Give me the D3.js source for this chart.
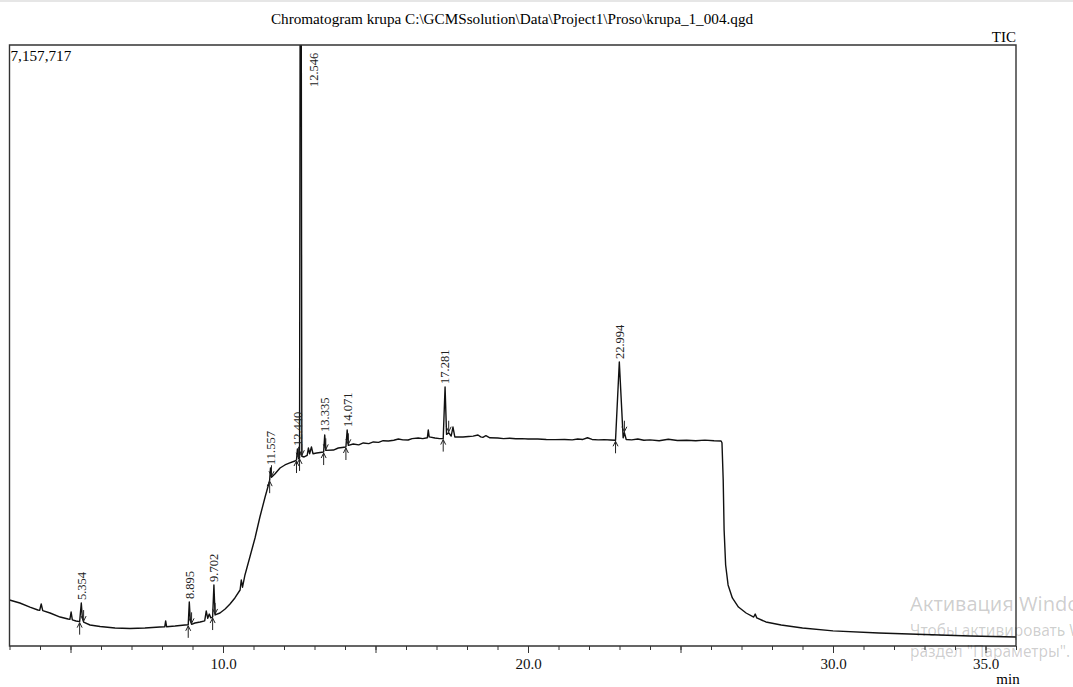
<!DOCTYPE html>
<html>
<head>
<meta charset="utf-8">
<script src="https://cdn.jsdelivr.net/npm/d3@7"></script>
<style>
  body { margin: 0; background: #fff; }
  svg { display: block; }
</style>
</head>
<body>
<div class="chart"></div>
<script>
var chartOptions = {
  width: 1073,
  height: 687,
  left: 9.5,
  right: 1016,
  top: 45,
  bottom: 646
};

// retention time (min)
var rtTimes = [
  3.00, 3.34, 3.67, 3.93, 3.99, 4.04, 4.09, 4.33, 4.66, 4.92, 4.98, 5.02, 5.06, 5.18,
  5.30, 5.354, 5.39, 5.43, 5.64, 5.97, 6.46, 6.95, 7.44, 7.93, 8.09, 8.12, 8.15, 8.43, 8.75,
  8.86, 8.895, 8.93, 8.97, 9.08, 9.25, 9.40, 9.45, 9.50, 9.55, 9.60,
  9.66, 9.702, 9.74, 9.90, 10.07, 10.23, 10.39, 10.56, 10.60, 10.64, 10.72, 10.89, 11.05,
  11.21, 11.38, 11.48, 11.53, 11.557, 11.59, 11.70, 11.87, 12.03, 12.19, 12.36,
  12.41, 12.44, 12.48, 12.51, 12.53, 12.546, 12.565, 12.585, 12.66,
  12.76, 12.80, 12.84, 12.90, 12.95, 13.07, 13.30, 13.335, 13.37, 13.62, 13.78,
  14.03, 14.071, 14.11, 14.27, 14.45, 14.60, 14.78, 14.93, 15.10, 15.25, 15.42, 15.60,
  15.75, 15.90, 16.07, 16.20, 16.40, 16.55, 16.70, 16.73, 16.76, 16.95, 17.10,
  17.22, 17.281, 17.33, 17.40, 17.48, 17.54, 17.60, 17.87, 18.05, 18.20, 18.36, 18.45,
  18.52, 18.62, 18.75, 19.01, 19.20, 19.40, 19.60, 19.80, 20.00, 20.32, 20.60, 20.90,
  21.20, 21.45, 21.63, 21.80, 21.95, 22.10, 22.30, 22.50, 22.70, 22.87,
  22.994, 23.12, 23.16, 23.22, 23.40, 23.60, 23.80, 24.00, 24.30, 24.60, 24.90, 25.20,
  25.50, 25.80, 26.10, 26.33, 26.36, 26.40, 26.43, 26.48, 26.56, 26.70, 26.90, 27.15,
  27.40, 27.45, 27.50, 27.80, 28.30, 29.00, 30.00, 31.50, 33.00, 34.50, 36.00
];

// TIC intensity (counts)
var ticCounts = [
  548000, 512000, 464000, 429000, 426000, 500000, 422000, 393000, 345000, 322000, 318000, 405000, 312000, 298000,
  290000, 512000, 330000, 285000, 250000, 232000, 214000, 208000, 214000, 226000, 228000, 298000, 230000, 238000, 250000,
  252000, 524000, 300000, 258000, 274000, 286000, 300000, 417000, 330000, 380000, 335000,
  345000, 727000, 370000, 393000, 441000, 500000, 572000, 667000, 786000, 700000, 846000, 1072000, 1286000,
  1536000, 1775000, 1906000, 1975000, 2120000, 2010000, 2049000, 2120000, 2156000, 2180000, 2203000,
  2215000, 2346000, 2230000, 2240000, 7800000, 9000000, 7800000, 2260000, 2251000,
  2270000, 2358000, 2290000, 2370000, 2290000, 2299000, 2310000, 2513000, 2330000, 2334000, 2358000,
  2370000, 2573000, 2390000, 2406000, 2395000, 2418000, 2410000, 2430000, 2425000, 2445000, 2441000, 2450000,
  2465000, 2455000, 2453000, 2470000, 2477000, 2470000, 2480000, 2573000, 2490000, 2477000, 2470000,
  2470000, 3085000, 2520000, 2540000, 2500000, 2608000, 2490000, 2489000, 2495000, 2500000, 2513000, 2490000,
  2485000, 2505000, 2480000, 2477000, 2470000, 2475000, 2468000, 2470000, 2465000, 2465000, 2460000, 2458000,
  2460000, 2455000, 2465000, 2460000, 2480000, 2460000, 2455000, 2458000, 2453000, 2450000,
  3382000, 2480000, 2540000, 2460000, 2455000, 2465000, 2450000, 2455000, 2445000, 2462000, 2448000, 2450000,
  2445000, 2452000, 2445000, 2442000, 2420000, 1977000, 1382000, 965000, 727000, 572000, 464000, 393000,
  345000, 381000, 335000, 286000, 250000, 215000, 180000, 155000, 137000, 119000, 107000
];

// integrated peaks
var peakLabels = ["5.354", "8.895", "9.702", "11.557", "12.440", "12.546", "13.335", "14.071", "17.281", "22.994"];
var peakStarts = [5.30, 8.86, 9.66, 11.53, 12.41, 12.51, 13.30, 14.03, 17.22, 22.87];
var peakEnds = [5.43, 8.97, 9.74, 11.59, 12.48, 12.585, 13.37, 14.11, 17.40, 23.16];

var minorTicks = d3.range(3, 37, 1);
var majorTicks = [5, 10, 15, 20, 25, 30, 35];
var tickLabels = [10, 20, 30, 35];
var yMax = 7157717;

var trace = rtTimes.map(function(t, i) { return { t: t, v: ticCounts[i] }; });

var svg = d3.select('.chart').append('svg')
  .attr('width', chartOptions.width)
  .attr('height', chartOptions.height);

var x = d3.scaleLinear().domain([3, 36]).range([chartOptions.left, chartOptions.right]);
var y = d3.scaleLinear().domain([0, yMax]).range([chartOptions.bottom, chartOptions.top]);

var valueAt = function(t) {
  var i = d3.bisector(function(d) { return d.t; }).left(trace, t);
  if (i <= 0) return trace[0].v;
  if (i >= trace.length) return trace[trace.length - 1].v;
  var a = trace[i - 1], b = trace[i];
  return a.v + (b.v - a.v) * (t - a.t) / (b.t - a.t);
};

svg.append('rect').attr('x', 0).attr('y', 0).attr('width', chartOptions.width).attr('height', 2).attr('fill', '#e6e6e6');

svg.append('text')
  .attr('x', 512).attr('y', 24)
  .attr('text-anchor', 'middle')
  .style('font', '15.2px "Liberation Serif"')
  .text('Chromatogram krupa C:\\GCMSsolution\\Data\\Project1\\Proso\\krupa_1_004.qgd');

svg.append('text')
  .attr('x', chartOptions.right).attr('y', 42)
  .attr('text-anchor', 'end')
  .style('font', '15px "Liberation Serif"')
  .text('TIC');

svg.append('clipPath').attr('id', 'plot-clip')
  .append('rect')
  .attr('x', chartOptions.left).attr('y', chartOptions.top)
  .attr('width', chartOptions.right - chartOptions.left)
  .attr('height', chartOptions.bottom - chartOptions.top);

// trace
var line = d3.line().x(function(d) { return x(d.t); }).y(function(d) { return y(d.v); });

svg.append('path')
  .datum(trace)
  .attr('clip-path', 'url(#plot-clip)')
  .attr('d', line)
  .attr('fill', 'none')
  .attr('stroke', '#111')
  .attr('stroke-width', 1.4)
  .attr('stroke-linejoin', 'round');

// peak start / end markers
var markers = svg.append('g').attr('stroke', '#222').attr('stroke-width', 1).attr('fill', 'none');
peakLabels.forEach(function(lbl, i) {
  var xs = x(peakStarts[i]), ys = y(valueAt(peakStarts[i]));
  markers.append('path').attr('d', 'M' + xs + ',' + (ys + 13) + 'V' + (ys + 1) + 'M' + (xs - 2.5) + ',' + (ys + 6) + 'L' + xs + ',' + (ys + 1) + 'L' + (xs + 2.5) + ',' + (ys + 6));
  var xe = x(peakEnds[i]), ye = y(valueAt(peakEnds[i]));
  markers.append('path').attr('d', 'M' + xe + ',' + (ye - 12) + 'V' + (ye - 1) + 'M' + (xe - 2.5) + ',' + (ye - 6) + 'L' + xe + ',' + (ye - 1) + 'L' + (xe + 2.5) + ',' + (ye - 6));
});

// peak labels
peakLabels.forEach(function(lbl, i) {
  var rt = +lbl;
  var top = y(valueAt(rt));
  var lx = x(rt), ly = top - 3;
  if (top < chartOptions.top) {
    lx = x(rt) + 13;
    ly = chartOptions.top + 42;
  }
  svg.append('text')
    .attr('transform', 'translate(' + lx + ',' + ly + ') rotate(-90)')
    .attr('dy', '0.35em')
    .style('font', '12.5px "Liberation Serif"')
    .attr('fill', '#222')
    .text(lbl);
});

// x axis ticks
svg.append('g')
  .attr('transform', 'translate(0,' + chartOptions.bottom + ')')
  .call(d3.axisBottom(x).tickValues(minorTicks).tickSize(4).tickFormat(''))
  .call(function(g) { g.select('.domain').remove(); });

svg.append('g')
  .attr('transform', 'translate(0,' + chartOptions.bottom + ')')
  .call(d3.axisBottom(x).tickValues(majorTicks).tickSize(7)
    .tickFormat(function(d) { return tickLabels.indexOf(d) >= 0 ? d3.format('.1f')(d) : ''; }))
  .call(function(g) {
    g.select('.domain').remove();
    g.selectAll('text').attr('dy', '0.85em').style('font', '15px "Liberation Serif"').attr('fill', '#111');
  });

svg.selectAll('.tick line').attr('stroke', '#333');

svg.append('text')
  .attr('x', 1008).attr('y', 684)
  .attr('text-anchor', 'middle')
  .style('font', '15px "Liberation Serif"')
  .text('min');

// frame
svg.append('path')
  .attr('d', 'M' + chartOptions.left + ',' + chartOptions.bottom + 'V' + chartOptions.top + 'H' + chartOptions.right + 'V' + chartOptions.bottom + 'Z')
  .attr('fill', 'none')
  .attr('stroke', '#333')
  .attr('stroke-width', 1.4);

svg.append('text')
  .attr('x', chartOptions.left + 1).attr('y', 61)
  .style('font', '15.2px "Liberation Serif"')
  .text(d3.format(',')(yMax));

// windows watermark
var wm = svg.append('g').attr('fill', '#000').attr('fill-opacity', 0.2).style('font-family', '"Noto Sans"');
wm.append('text').attr('x', 910).attr('y', 611).style('font-size', '20px').text('Активация Windows');
wm.append('text').attr('x', 910).attr('y', 636).style('font-size', '15.5px').text('Чтобы активировать Windows,');
wm.append('text').attr('x', 910).attr('y', 657).style('font-size', '15.5px').text('раздел "Параметры".');
</script>
</body>
</html>
